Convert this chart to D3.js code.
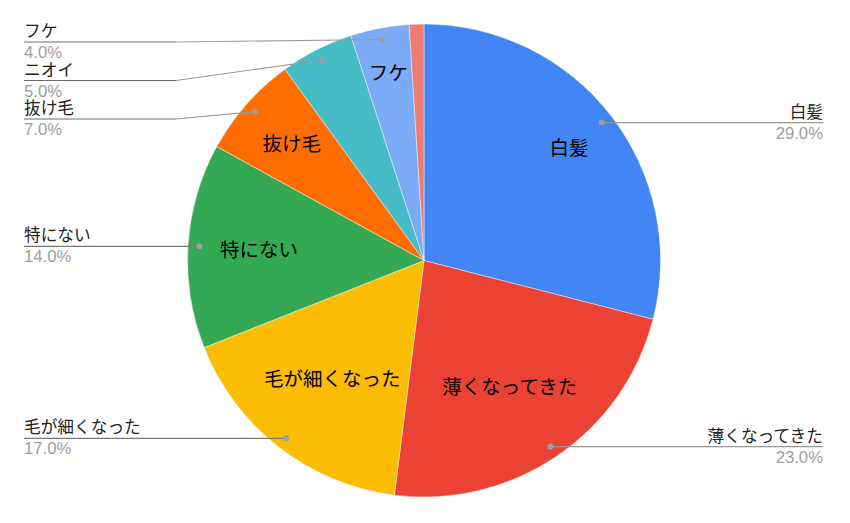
<!DOCTYPE html>
<html><head><meta charset="utf-8">
<script src="https://cdn.jsdelivr.net/npm/d3@7"></script>
<style>
html,body{margin:0;padding:0;background:#fff;}
svg{display:block;font-family:"Liberation Sans","Noto Sans CJK JP",sans-serif;}
</style></head>
<body><svg id="c" width="850" height="523"></svg>
<script>
const categories = ["白髪","薄くなってきた","毛が細くなった","特にない","抜け毛","ニオイ","フケ","その他"];
const values = [29,23,17,14,7,5,4,1];
const colors = ["#4285f4","#ea4335","#fbbc04","#34a853","#ff6d01","#46bdc6","#7baaf7","#f07b72"];
const showLabel = [true,true,true,true,true,true,true,false];

const W=850,H=523, cx=424, cy=260.5, R=236.5;
const svg=d3.select("#c");
const g=svg.append("g").attr("transform",`translate(${cx},${cy})`);
const total=d3.sum(values);
const pie=d3.pie().sort(null).value(d=>d.v);
const data=pie(categories.map((c,i)=>({c,v:values[i],i})));
const arc=d3.arc().innerRadius(0).outerRadius(R);

g.selectAll("path.s").data(data).join("path")
 .attr("class","s").attr("d",arc).attr("fill",d=>colors[d.data.i])
 .attr("stroke","#fff").attr("stroke-opacity",0.6).attr("stroke-width",0.7);

// inner labels (shown only when the text box fits inside the wedge)
const innerFs=19.5;
const TAU=2*Math.PI;
function ang(x,y){let t=Math.atan2(x,-y);if(t<0)t+=TAU;return t;}
data.forEach(d=>{
  if(!showLabel[d.data.i]) return;
  const a=(d.startAngle+d.endAngle)/2;
  const t=g.append("text").text(d.data.c).attr("font-size",innerFs)
    .attr("fill","#000").attr("text-anchor","middle").attr("dominant-baseline","central");
  const w=t.node().getComputedTextLength(), h=innerFs;
  const fit=205;
  let lo=0,hi=R;
  const corners=[[-1,-1],[1,-1],[-1,1],[1,1]];
  for(let k=0;k<40;k++){
    const m=(lo+hi)/2, x=m*Math.sin(a), y=-m*Math.cos(a);
    const dmax=Math.max(...corners.map(([sx,sy])=>Math.hypot(x+sx*w/2,y+sy*h/2)));
    if(dmax>fit) hi=m; else lo=m;
  }
  const x=lo*Math.sin(a), y=-lo*Math.cos(a);
  const ok=corners.every(([sx,sy])=>{
    const q=ang(x+sx*w/2,y+sy*h/2);
    return q>=d.startAngle && q<=d.endAngle;
  });
  if(!ok){t.remove();return;}
  t.attr("x",x).attr("y",y);
});

// outer labels
const dotR=225, fs=16.7, leftX=24, rightX=823, elbowL=176, spacing=38.5, minTop=42;
const items=data.filter(d=>showLabel[d.data.i]).map(d=>{
  const a=(d.startAngle+d.endAngle)/2;
  return {d,a,x:cx+dotR*Math.sin(a),y:cy-dotR*Math.cos(a),left:a>Math.PI};
});
const left=items.filter(o=>o.left).sort((p,q)=>p.y-q.y);
const right=items.filter(o=>!o.left).sort((p,q)=>p.y-q.y);
let prev=-Infinity;
left.forEach(o=>{o.ly=Math.max(o.y,minTop,prev+spacing);prev=o.ly;});
prev=-Infinity;
right.forEach(o=>{o.ly=Math.max(o.y,minTop,prev+spacing);prev=o.ly;});

const fmt=v=>(v/total*100).toFixed(1)+"%";
items.forEach(o=>{
  if(o.left){
    if(Math.abs(o.ly-o.y)<0.6){
      svg.append("line").attr("x1",leftX).attr("x2",o.x).attr("y1",o.ly).attr("y2",o.ly)
        .attr("stroke","#777").attr("stroke-width",1.2);
    } else {
      svg.append("line").attr("x1",leftX).attr("x2",elbowL).attr("y1",o.ly).attr("y2",o.ly)
        .attr("stroke","#6f6f6f").attr("stroke-width",1.2);
      svg.append("line").attr("x1",elbowL).attr("x2",o.x).attr("y1",o.ly).attr("y2",o.y)
        .attr("stroke","#9a9a9a").attr("stroke-width",1.2);
    }
    svg.append("text").attr("x",leftX).attr("y",o.ly-5).attr("font-size",fs).attr("fill","#222").text(o.d.data.c);
    svg.append("text").attr("x",leftX).attr("y",o.ly+16).attr("font-size",fs).attr("fill","#9e9e9e").text(fmt(o.d.data.v));
  } else {
    svg.append("line").attr("x1",o.x).attr("x2",rightX).attr("y1",o.y).attr("y2",o.ly)
      .attr("stroke","#999").attr("stroke-width",1.2);
    svg.append("text").attr("x",rightX).attr("y",o.ly-5).attr("font-size",fs).attr("fill","#222").attr("text-anchor","end").text(o.d.data.c);
    svg.append("text").attr("x",rightX).attr("y",o.ly+16).attr("font-size",fs).attr("fill","#9e9e9e").attr("text-anchor","end").text(fmt(o.d.data.v));
  }
  svg.append("circle").attr("cx",o.x).attr("cy",o.y).attr("r",3).attr("fill","#9e9e9e");
});
</script></body></html>
